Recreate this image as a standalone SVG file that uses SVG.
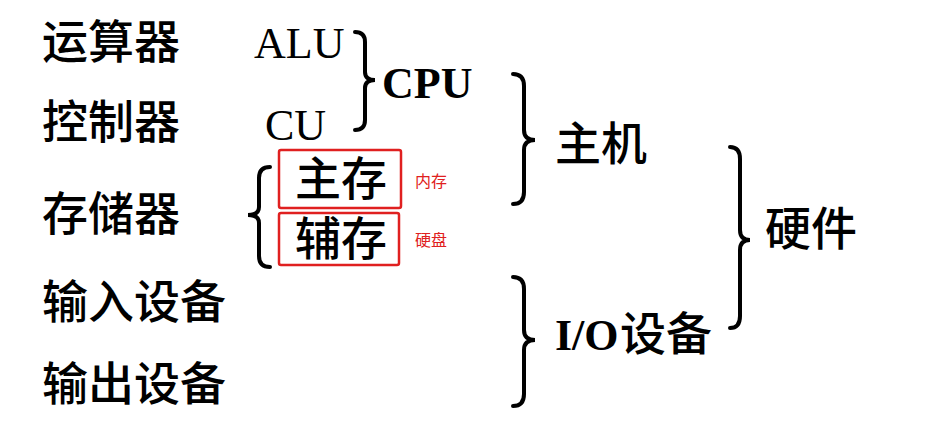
<svg xmlns="http://www.w3.org/2000/svg" width="930" height="427" viewBox="0 0 930 427">
<style>
.cn{font-family:"Noto Sans CJK SC",sans-serif;font-size:46px;fill:#000;font-weight:500}
.en{font-family:"Liberation Serif",serif;font-size:44px;fill:#000}
.b{font-weight:bold}
.red{font-family:"Noto Sans CJK SC",sans-serif;font-size:16px;fill:#e02020}
.br{fill:none;stroke:#000;stroke-width:4;stroke-linecap:round}
.box{fill:none;stroke:#e02020;stroke-width:2.5}
</style>
<rect width="930" height="427" fill="#fff"/>
<g id="left-labels">
<text class="cn" x="42" y="58">运算器</text>
<text class="cn" x="42" y="138">控制器</text>
<text class="cn" x="42" y="230">存储器</text>
<text class="cn" x="42" y="318">输入设备</text>
<text class="cn" x="42" y="400">输出设备</text>
</g>
<g id="alu"><text class="en" x="254" y="58">ALU</text></g>
<g id="cu"><text class="en" x="265" y="140">CU</text></g>
<g id="cpu"><text class="en b" x="382" y="98">CPU</text></g>
<g id="zhuji"><text class="cn" x="555" y="160">主机</text></g>
<g id="zhucun"><rect class="box" x="279" y="150" width="122" height="58" rx="2"/><text class="cn" x="295" y="195">主存</text></g>
<g id="fucun"><rect class="box" x="279" y="213" width="120" height="52" rx="2"/><text class="cn" x="295" y="255">辅存</text></g>
<g id="neicun"><text class="red" x="415" y="187">内存</text></g>
<g id="yingpan"><text class="red" x="415" y="246">硬盘</text></g>
<g id="io"><text class="en b" x="555" y="350">I/O</text><text class="cn" x="620" y="350">设备</text></g>
<g id="yingjian"><text class="cn" x="765" y="245">硬件</text></g>
<g id="connectors">
<path class="br" d="M355,32 Q365,32 365,42 L365,72 Q365,80 375,80 Q365,80 365,88 L365,120 Q365,130 355,130"/>
<path class="br" d="M513,74 Q524,74 524,86 L524,130 Q524,140 535,140 Q524,140 524,150 L524,192 Q524,204 513,204"/>
<path class="br" d="M270,167 Q259,167 259,178 L259,207 Q259,215 248,215 Q259,215 259,223 L259,256 Q259,267 270,267"/>
<path class="br" d="M513,277 Q524,277 524,289 L524,330 Q524,340 535,340 Q524,340 524,350 L524,394 Q524,406 513,406"/>
<path class="br" d="M730,147 Q740,147 740,159 L740,230 Q740,240 750,240 Q740,240 740,250 L740,316 Q740,328 730,328"/>
</g>
</svg>
